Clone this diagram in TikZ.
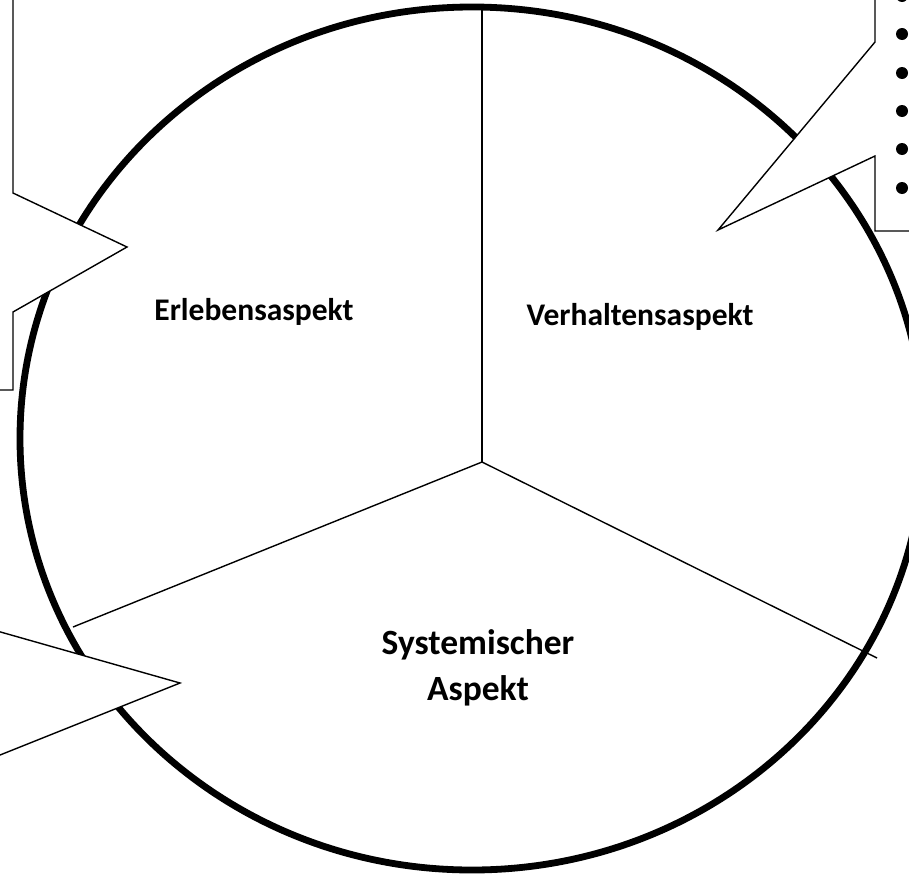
\documentclass[tikz,border=0pt]{standalone}
\usepackage{fontspec}
\setmainfont{Carlito}
\tikzset{
  thin line/.style={line width=1.4pt, line join=miter},
  callout/.style={thin line, draw=black, fill=white},
  bulletdot/.style={circle, fill=black, inner sep=0pt, minimum size=12pt},
  label small/.style={font=\bfseries\fontsize{31.5}{38}\selectfont, inner sep=0pt, anchor=base},
  label big/.style={font=\bfseries\fontsize{35.5}{46}\selectfont, inner sep=0pt, align=center}
}
\begin{document}
\begin{tikzpicture}[x=1pt,y=-1pt]
\clip (0,0) rectangle (909,878);
\fill[white] (0,0) rectangle (909,878);
% big circle
\coordinate (ctr) at (472,438.5);
\draw[line width=6.8pt] (ctr) ellipse [x radius=452, y radius=431.5];
% pie lines
\coordinate (hub) at (482,462);
\coordinate (topend) at (482,10);
\coordinate (leftend) at (73,627);
\coordinate (rightend) at (877,658);
\draw[thin line] (hub) -- (topend);
\draw[thin line] (hub) -- (leftend);
\draw[thin line] (hub) -- (rightend);
% callouts
\draw[callout] (-60,-60) -- (13,-60) -- (13,193) -- (127,247) -- (13,312) -- (13,390) -- (-60,390) -- cycle;
\draw[callout] (980,-60) -- (875,-60) -- (875,42) -- (718,230) -- (875,156) -- (875,231) -- (980,231) -- cycle;
\draw[callout] (-120,500) -- (-10,500) -- (-10,629) -- (180,683) -- (-10,759) -- (-10,860) -- (-120,860) -- cycle;
% bullets
\node[bulletdot] (b0) at (902,-4) {};
\node[bulletdot] (b1) at (902,34) {};
\node[bulletdot] (b2) at (902,73) {};
\node[bulletdot] (b3) at (902,111) {};
\node[bulletdot] (b4) at (902,149) {};
\node[bulletdot] (b5) at (902,188) {};
% labels
\node[label small] (erl) at (254,320) {Erlebensaspekt};
\node[label small] (ver) at (640,325) {Verhaltensaspekt};
\node[label big] (sys) at (478,668) {Systemischer\\Aspekt};
\end{tikzpicture}
\end{document}
